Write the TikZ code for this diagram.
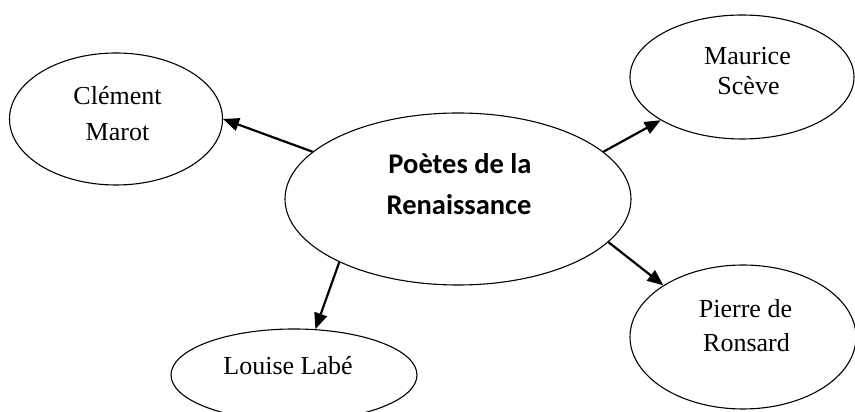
\documentclass[tikz,border=0pt]{standalone}
\usepackage{fontspec}
\setmainfont{Liberation Serif}
\newfontfamily\centralfont{Carlito}
\usetikzlibrary{shapes.geometric,arrows.meta}
\tikzset{
  bubble/.style={ellipse,draw,line width=1.1pt,inner sep=0pt},
  label/.style={anchor=base,inner sep=0pt,font=\fontsize{26}{30}\selectfont},
  titlelabel/.style={anchor=base,inner sep=0pt,font=\centralfont\bfseries\fontsize{28.5}{34}\selectfont},
  link/.style={line width=2.2pt,-{Triangle[length=16pt,width=13pt]}}
}
\begin{document}
\begin{tikzpicture}[x=1pt,y=1pt]
\useasboundingbox (0,0) rectangle (855,412);
\fill[white] (0,0) rectangle (855,412);

% ellipses
\node[bubble,minimum width=346pt,minimum height=172pt] (c) at (458,213) {};
\node[bubble,minimum width=213pt,minimum height=132pt] (cm) at (116,293) {};
\node[bubble,minimum width=224pt,minimum height=124pt] (ms) at (742,335) {};
\node[bubble,minimum width=226pt,minimum height=144pt] (pr) at (743,75) {};
\node[bubble,minimum width=246pt,minimum height=92pt] (ll) at (294,37) {};

% texts
\node[titlelabel] (t1) at (460,238) {Poètes de la};
\node[titlelabel] (t2) at (459,197) {Renaissance};
\node[label] (cm1) at (117.5,307) {Clément};
\node[label] (cm2) at (117.5,271) {Marot};
\node[label] (ms1) at (747.5,347) {Maurice};
\node[label] (ms2) at (748.5,317) {Scève};
\node[label] (pr1) at (745.5,94) {Pierre de};
\node[label] (pr2) at (746.5,60) {Ronsard};
\node[label] (ll1) at (288,37) {Louise Labé};

% connectors
\draw[link] (c.162.4) -- (cm.east);
\draw[link] (c.18.4) -- (ms.208);
\draw[link] (c.-16) -- (pr.147);
\draw[link] (c.208.5) -- (ll.65.5);
\end{tikzpicture}
\end{document}
